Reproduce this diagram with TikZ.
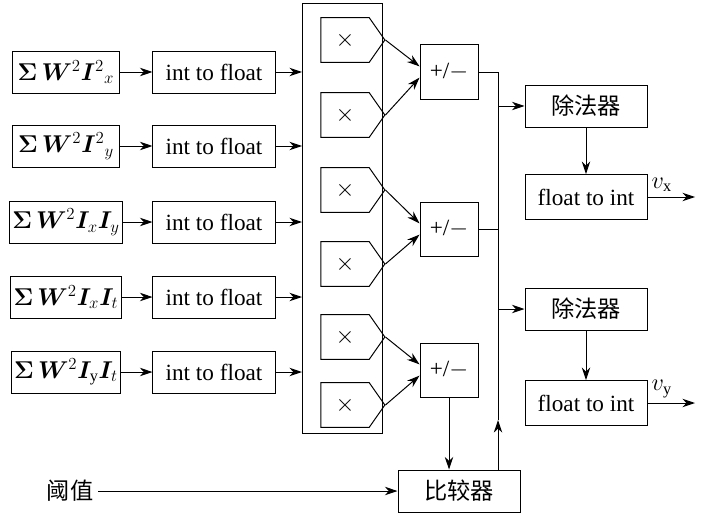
\documentclass[tikz,border=0pt]{standalone}
\usepackage{fontspec}
\setmainfont{Liberation Serif}
\newfontfamily\cjk{Noto Sans CJK SC}
\usepackage{bm}
\usetikzlibrary{arrows.meta, shapes.symbols, positioning}
\tikzset{
  blk/.style={draw, line width=0.7pt, minimum height=1.05cm, inner sep=2pt, font=\fontsize{16.5}{16.5}\selectfont},
  mul/.style={draw, line width=0.7pt, shape=signal, signal to=east, signal pointer angle=110,
    minimum width=1.6cm, minimum height=1.12cm, inner sep=0pt, font=\LARGE},
  arr/.style={-{Stealth[length=9pt,width=6pt]}, line width=0.7pt},
  ln/.style={line width=0.7pt}
}
\begin{document}
\begin{tikzpicture}[x=0.025cm,y=-0.025cm]
  \useasboundingbox (0,0) rectangle (701,518);
  % inputs and conversion
  \foreach \i/\y/\lab in {1/72/{\bm{\Sigma\,W}^2\bm{I}^{2}{}_{x}},
                          2/146/{\bm{\Sigma\,W}^2\bm{I}^{2}{}_{y}},
                          3/222/{\bm{\Sigma\,W}^2\bm{I}_x\bm{I}_y},
                          4/297/{\bm{\Sigma\,W}^2\bm{I}_x\bm{I}_t},
                          5/372/{\bm{\Sigma\,W}^2\bm{I}_{\mathrm{y}}\bm{I}_t}}{
    \node[blk, minimum width=2.65cm] (s\i) at (66,\y) {$\lab$};
    \node[blk, minimum width=3.05cm] (c\i) at (214,\y) {int to float};
    \coordinate (e\i) at (302,\y);
    \draw[arr] (s\i) -- (c\i);
    \draw[arr] (c\i) -- (e\i);
  }
  % multipliers
  \draw[ln] (302,3) rectangle (382,433);
  \foreach \i/\y in {1/40,2/115,3/190,4/264,5/337,6/405}
    \node[mul] (m\i) at (345,\y) {$\times$};
  % add/sub
  \foreach \i/\y in {1/72,2/229,3/370}
    \node[blk, minimum width=1.45cm, minimum height=1.35cm] (p\i) at (449,\y) {+/$-$};
  \foreach \i/\a/\b in {1/1/2,2/3/4,3/5/6}{
    \draw[arr] (m\a.east) -- ([yshift=4pt]p\i.west);
    \draw[arr] (m\b.east) -- ([yshift=-4pt]p\i.west);
  }
  % divider and output
  \node[blk, minimum width=3.05cm] (d1) at (586,106) {\cjk 除法器};
  \node[blk, minimum width=3.05cm] (d2) at (586,309) {\cjk 除法器};
  \node[blk, minimum width=3.05cm, minimum height=1.12cm] (f1) at (586,197) {float to int};
  \node[blk, minimum width=3.05cm, minimum height=1.12cm] (f2) at (586,403) {float to int};
  \node[blk, minimum width=3.05cm] (cmp) at (459,491) {\cjk 比较器};
  \node[font=\fontsize{16.5}{16.5}\selectfont\cjk] (th) at (70,491) {阈值};
  \coordinate (b0) at (498,72);
  \coordinate (b1) at (498,106);
  \coordinate (b2) at (498,309);
  \coordinate (bu) at (498,420);
  \coordinate (o1) at (695,197);
  \coordinate (o2) at (695,403);
  \draw[ln] (p1.east) -- (b0) -- (bu);
  \draw[ln] (p2.east) -- (p2.east -| b0);
  \draw[arr] (cmp.north -| b0) -- (bu);
  \draw[arr] (b1) -- (d1);
  \draw[arr] (b2) -- (d2);
  \draw[arr] (d1) -- (f1);
  \draw[arr] (d2) -- (f2);
  \draw[arr] (f1) -- node[above, pos=0.3, font=\fontsize{16.5}{16.5}\selectfont] {$v_{\mathrm{x}}$} (o1);
  \draw[arr] (f2) -- node[above, pos=0.3, font=\fontsize{16.5}{16.5}\selectfont] {$v_{\mathrm{y}}$} (o2);
  \draw[arr] (p3.south) -- (p3.south |- cmp.north);
  \draw[arr] (th) -- (cmp);
\end{tikzpicture}
\end{document}
